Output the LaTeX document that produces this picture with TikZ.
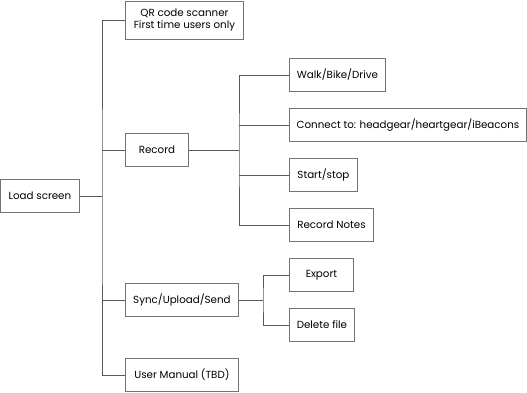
\documentclass[tikz,border=0pt]{standalone}
\usepackage{fontspec}
\setmainfont{Poppins}
\usetikzlibrary{positioning, calc}

\begin{document}
\begin{tikzpicture}[
    x=1pt, y=-1pt,             % 1 unit = 1 pixel of the sketch, y downwards
    line width=0.9pt,
    font=\fontsize{10.3}{12.5}\selectfont,
    box/.style={draw=black!55, fill=white, anchor=west, minimum height=33pt,
                inner xsep=5pt, align=center},
    link/.style={draw=black!65}
]
    \useasboundingbox (0,0) rectangle (527,393);

    % --- 1. boxes ---
    \node [box, minimum width=79pt]  (load)    at (0,196)   {Load screen};

    \node [box, minimum width=118pt, minimum height=38pt] (qr) at (125,20)
        {QR code scanner\\First time users only};
    \node [box, minimum width=63pt]  (record)  at (125,150) {Record};
    \node [box, minimum width=113pt] (sync)    at (125,300) {Sync/Upload/Send};
    \node [box, minimum width=113pt] (manual)  at (125,375) {User Manual (TBD)};

    \node [box, minimum width=96pt]  (walk)    at (289,75)  {Walk/Bike/Drive};
    \node [box, minimum width=237pt] (connect) at (289,125) {Connect to: headgear/heartgear/iBeacons};
    \node [box, minimum width=68pt]  (start)   at (289,175) {Start/stop};
    \node [box, minimum width=84pt]  (notes)   at (289,225) {Record Notes};

    \node [box, minimum width=64pt]  (export)  at (289,275) {Export};
    \node [box, minimum width=65pt]  (delete)  at (289,325) {Delete file};

    % --- 2. branch points ---
    \coordinate (t1) at (102,196);
    \coordinate (t2) at (239,150);
    \coordinate (t3) at (263,300);

    % --- 3. connectors ---
    % load screen
    \draw [link] (load) -- (t1);
    \draw [link] (qr.west) -| (t1) |- (manual.west);
    \draw [link] (t1 |- record) -- (record);
    \draw [link] (t1 |- sync) -- (sync);

    % record
    \draw [link] (record) -- (t2);
    \draw [link] (walk.west) -| (t2) |- (notes.west);
    \draw [link] (t2 |- connect) -- (connect);
    \draw [link] (t2 |- start) -- (start);

    % sync
    \draw [link] (sync) -- (t3);
    \draw [link] (export.west) -| (t3) |- (delete.west);

\end{tikzpicture}
\end{document}
